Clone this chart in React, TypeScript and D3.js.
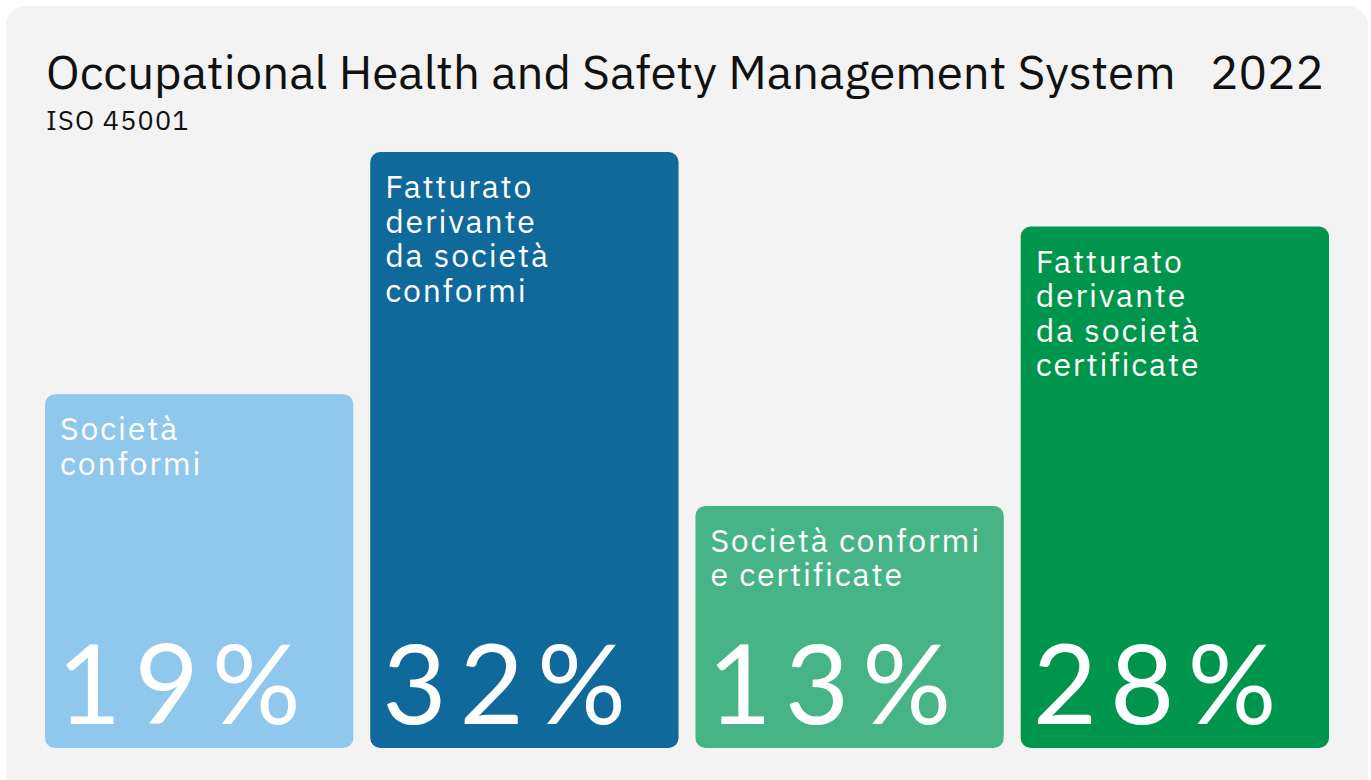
import React from 'react'
import * as d3 from 'd3'

const width = 1371
const height = 780
const margin = { top: 152, right: 42, bottom: 32, left: 45 }

// data
const categories = ['soc_conf', 'fatt_conf', 'soc_cert', 'fatt_cert']
const values = [19, 32, 13, 28]
const labels = [
  ['Società', 'conformi'],
  ['Fatturato', 'derivante', 'da società', 'conformi'],
  ['Società conformi', 'e certificate'],
  ['Fatturato', 'derivante', 'da società', 'certificate'],
]
const colors = ['#8fc8ec', '#0f699b', '#47b486', '#00954c']
const title = 'Occupational Health and Safety Management System'
const subtitle = 'ISO 45001'
const year = '2022'

const textFont = '"IBM Plex Sans", "Noto Sans", "Open Sans", sans-serif'
const numFont = 'Lato, "Noto Sans", sans-serif'

export default function App() {
  const xScale = d3.scaleBand<string>()
    .domain(categories)
    .range([margin.left, width - margin.right])
    .paddingInner(0.052)
    .paddingOuter(0)
  const yScale = d3.scaleLinear()
    .domain([0, 32])
    .range([height - margin.bottom, margin.top])

  return (
    <svg width={width} height={height}
      style={{ position: 'absolute', left: 0, top: 0, display: 'block' }}>
      <rect x={6} y={6} width={1362} height={790} rx={20} fill="#f3f3f3" />
      <text x={46} y={89} fontFamily={textFont} fontSize={47.5} fill="#111">{title}</text>
      <text x={1324} y={89} fontFamily={textFont} fontSize={47.5} fill="#111" textAnchor="end">{year}</text>
      <text x={46} y={130} fontFamily={textFont} fontSize={27} letterSpacing={1.2} fill="#111">{subtitle}</text>
      {categories.map((c, i) => {
        const x = xScale(c)!
        const y = yScale(values[i])
        const h = yScale(0) - y
        return (
          <g key={c}>
            <rect x={x} y={y} width={xScale.bandwidth()} height={h} rx={10} fill={colors[i]} />
            <text fontFamily={textFont} fontSize={32} fill="#fff" letterSpacing={1.8}>
              {labels[i].map((l, j) => (
                <tspan key={j} x={x + 15} y={y + 46 + j * 34.5}>{l}</tspan>
              ))}
            </text>
            <text x={x + 12} y={yScale(0) - 24} fontFamily={numFont} fontSize={111}
              fontWeight={400} letterSpacing={13} fill="#fff">{values[i] + '%'}</text>
          </g>
        )
      })}
    </svg>
  )
}
